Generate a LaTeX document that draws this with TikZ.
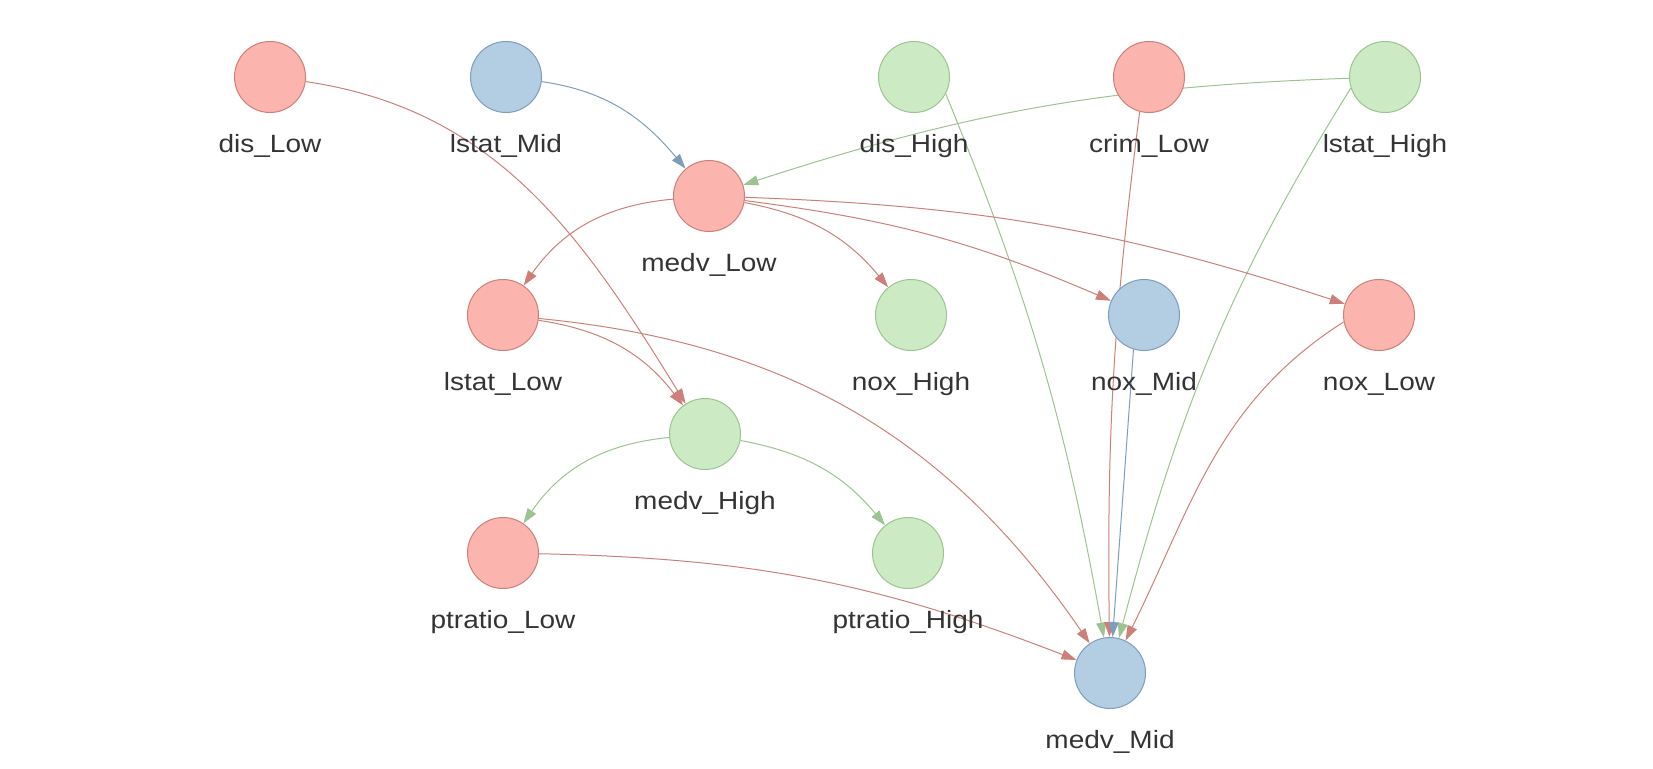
\documentclass[tikz,border=0pt]{standalone}
\usepackage{fontspec}
\setmainfont{Liberation Sans}[FakeStretch=1.12]
\usetikzlibrary{arrows.meta,backgrounds}
\definecolor{redfill}{HTML}{FBB4AE}
\definecolor{redline}{HTML}{CD7F79}
\definecolor{bluefill}{HTML}{B3CDE3}
\definecolor{blueline}{HTML}{7F9DBA}
\definecolor{greenfill}{HTML}{CCEBC5}
\definecolor{greenline}{HTML}{9CC391}
\definecolor{labelgray}{HTML}{343434}

\begin{document}
\begin{tikzpicture}[x=1pt,y=-1pt,
  bn/.style={circle,minimum size=71pt,inner sep=0pt,line width=1pt},
  rednode/.style={bn,draw=redline,fill=redfill},
  bluenode/.style={bn,draw=blueline,fill=bluefill},
  greennode/.style={bn,draw=greenline,fill=greenfill},
  lbl/.style={anchor=base,inner sep=0pt,text=labelgray,font=\fontsize{25}{30}\selectfont},
  edge/.style={line width=1pt,-{Triangle[length=15pt,width=10pt]}},
  rededge/.style={edge,color=redline},
  blueedge/.style={edge,color=blueline},
  greenedge/.style={edge,color=greenline}]
  \useasboundingbox (0,0) rectangle (1653,768);
  % top row
  \node[rednode]   (disLow)    at (270,77)  {};
  \node[bluenode]  (lstatMid)  at (506,77)  {};
  \node[greennode] (disHigh)   at (914,77)  {};
  \node[rednode]   (crimLow)   at (1149,77) {};
  \node[greennode] (lstatHigh) at (1385,77) {};
  \node[lbl] (disLowL)    at (270,152)  {dis\_Low};
  \node[lbl] (lstatMidL)  at (506,152)  {lstat\_Mid};
  \node[lbl] (disHighL)   at (914,152)  {dis\_High};
  \node[lbl] (crimLowL)   at (1149,152) {crim\_Low};
  \node[lbl] (lstatHighL) at (1385,152) {lstat\_High};
  % second row
  \node[rednode] (medvLow) at (709,196) {};
  \node[lbl] (medvLowL) at (709,271) {medv\_Low};
  % third row
  \node[rednode]   (lstatLow) at (503,315)  {};
  \node[greennode] (noxHigh)  at (911,315)  {};
  \node[bluenode]  (noxMid)   at (1144,315) {};
  \node[rednode]   (noxLow)   at (1379,315) {};
  \node[lbl] (lstatLowL) at (503,390)  {lstat\_Low};
  \node[lbl] (noxHighL)  at (911,390)  {nox\_High};
  \node[lbl] (noxMidL)   at (1144,390) {nox\_Mid};
  \node[lbl] (noxLowL)   at (1379,390) {nox\_Low};
  % fourth and fifth rows
  \node[greennode] (medvHigh)    at (705,434) {};
  \node[rednode]   (ptratioLow)  at (503,553) {};
  \node[greennode] (ptratioHigh) at (908,553) {};
  \node[bluenode]  (medvMid)     at (1110,673) {};
  \node[lbl] (medvHighL)    at (705,509)  {medv\_High};
  \node[lbl] (ptratioLowL)  at (503,628)  {ptratio\_Low};
  \node[lbl] (ptratioHighL) at (908,628)  {ptratio\_High};
  \node[lbl] (medvMidL)     at (1110,748) {medv\_Mid};
  % edges, behind the nodes
  \begin{scope}[on background layer]
    \draw[rededge]   (disLow) to[out=32,in=162,relative] (medvHigh);
    \draw[blueedge]  (lstatMid) to[out=23,in=161,relative] (medvLow);
    \draw[greenedge] (lstatHigh) to[bend right=8] (medvLow);
    \draw[greenedge] (disHigh.-28) to[bend left=6] (medvMid);
    \draw[rededge]   (crimLow.-105) to[bend right=4] (medvMid);
    \draw[greenedge] (lstatHigh.198) to[out=-9,in=188,relative] (medvMid);
    \draw[blueedge]  (noxMid.-107) -- (medvMid);
    \draw[rededge]   (noxLow.191) to[out=-23,in=188,relative] (medvMid);
    \draw[rededge]   (medvLow) to[bend right=25] (lstatLow);
    \draw[rededge]   (medvLow) to[bend left=20] (noxHigh);
    \draw[rededge]   (medvLow) to[bend left=8] (noxMid);
    \draw[rededge]   (medvLow) to[bend left=8] (noxLow);
    \draw[rededge]   (lstatLow) to[bend left=22] (medvHigh);
    \draw[rededge]   (lstatLow) to[bend left=25] (medvMid);
    \draw[greenedge] (medvHigh) to[bend right=25] (ptratioLow);
    \draw[greenedge] (medvHigh) to[bend left=20] (ptratioHigh);
    \draw[rededge]   (ptratioLow) to[bend left=10] (medvMid);
  \end{scope}
\end{tikzpicture}
\end{document}
